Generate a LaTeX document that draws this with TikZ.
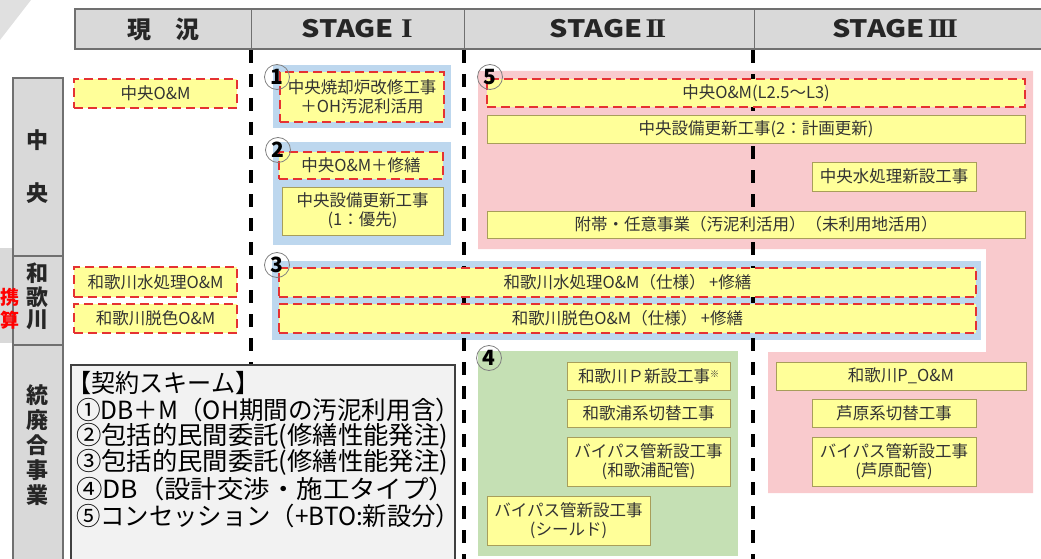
\documentclass[tikz,border=0pt]{standalone}
\usepackage{fontspec}
\setmainfont{Noto Sans CJK JP}
\newfontfamily\romfont{Liberation Serif}
\definecolor{yel}{HTML}{FFFF99}
\definecolor{ybord}{HTML}{A89E5A}
\definecolor{redd}{HTML}{E53232}
\definecolor{pinkbg}{HTML}{F9CACD}
\definecolor{bluebg}{HTML}{BDD7EE}
\definecolor{greenbg}{HTML}{C5E0B4}
\definecolor{hdrgrey}{HTML}{D9D9D9}
\definecolor{hdrline}{HTML}{707070}
\definecolor{legfill}{HTML}{F2F2F2}
\definecolor{txt}{HTML}{333333}
\newcommand{\mybox}[7]{\node[#6, minimum width={(#4-#2)*1pt}, minimum height={(#5-#3)*1pt}] (#1) at ({(#2+#4)/2},{(#3+#5)/2}) {#7};}
\newcommand{\stg}[2]{\scalebox{1.2}[1]{STAGE}\hspace{#1}{\romfont\bfseries\fontsize{27}{27}\selectfont\scalebox{1.1}[1]{#2}}}
\newcommand{\legline}[2]{\resizebox{#1}{\height}{#2}}
\begin{document}
\begin{tikzpicture}[x=1pt,y=-1pt,
  ybox/.style={draw=ybord, fill=yel, line width=0.9pt, inner sep=0pt, text=txt, align=center, font=\fontsize{16.5}{19}\selectfont},
  rbox/.style={ybox, draw=redd, line width=2.2pt, dash pattern=on 9pt off 5pt},
  numc/.style={circle, draw=gray, line width=0.8pt, minimum size=25pt, inner sep=0pt, font=\bfseries\fontsize{21}{21}\selectfont},
  hdr/.style={font=\bfseries\fontsize{24}{24}\selectfont, text=black!85},
  rowch/.style={font=\bfseries\fontsize{22}{22}\selectfont, text=black!85, inner sep=0pt},
  vdash/.style={line width=3.5pt, dash pattern=on 13pt off 11pt},
  leg/.style={anchor=west, font=\fontsize{25}{25}\selectfont, inner sep=0pt, text=black}
]
\useasboundingbox (0,0) rectangle (1041,559);
% top-left wedge and left strip
\fill[black!12] (0,0) -- (31,0) -- (0,40) -- cycle;
\fill[hdrgrey] (0,248) rectangle (13,343);
% header row
\draw[fill=hdrgrey, draw=hdrline, line width=1.2pt] (75,9) rectangle (1050,49);
\foreach \xx in {251,464,754} \draw[hdrline, line width=1pt] (\xx,9) -- (\xx,49);
\node[hdr] (h0) at (163,29) {現　況};
\node[hdr] (h1) at (357,29) {\stg{7pt}{I}};
\node[hdr] (h2) at (608,29) {\stg{3pt}{I\kern-2.2pt I}};
\node[hdr] (h3) at (895,29) {\stg{3pt}{I\kern-2.2pt I\kern-2.2pt I}};
% left row headers
\draw[fill=hdrgrey, draw=hdrline, line width=1.2pt] (13,78) rectangle (63,256);
\draw[fill=hdrgrey, draw=hdrline, line width=1.2pt] (13,256) rectangle (63,345);
\draw[fill=hdrgrey, draw=hdrline, line width=1.2pt] (13,345) rectangle (63,570);
\node[rowch] (r1a) at (38,140) {中};
\node[rowch] (r1b) at (38,193) {央};
\node[rowch] (r2a) at (38,273) {和};
\node[rowch] (r2b) at (38,297) {歌};
\node[rowch] (r2c) at (38,320) {川};
\node[rowch] (r3a) at (38,395) {統};
\node[rowch] (r3b) at (38,420) {廃};
\node[rowch] (r3c) at (38,445) {合};
\node[rowch] (r3d) at (38,470) {事};
\node[rowch] (r3e) at (38,495) {業};
% background groups
\fill[pinkbg] (478,71) -- (1033,71) -- (1033,493) -- (768,493) -- (768,352) -- (986,352) -- (986,249) -- (478,249) -- cycle;
\fill[bluebg] (273,65) rectangle (451,128);
\fill[bluebg] (273,142) rectangle (451,245);
\fill[bluebg] (272,261) rectangle (981,340);
\fill[greenbg] (478,351) rectangle (738,556);
% stage dividers
\draw[vdash] (251,50) -- (251,565);
\draw[vdash] (464,50) -- (464,565);
\draw[vdash] (753,50) -- (753,565);
% current
\mybox{c1}{74}{79}{237}{108}{rbox}{中央O\&M}
\mybox{w1}{74}{267}{237}{297}{rbox}{和歌川水処理O\&M}
\mybox{w2}{74}{304}{237}{333}{rbox}{和歌川脱色O\&M}
% stage I
\mybox{s1a}{280}{72}{444}{122}{rbox}{中央焼却炉改修工事\\＋OH汚泥利活用}
\mybox{s2a}{279}{152}{443}{179}{rbox}{中央O\&M＋修繕}
\mybox{s2b}{282}{187}{443}{235}{ybox}{中央設備更新工事\\(1：優先)}
% group 3
\mybox{s3a}{279}{268}{976}{297}{rbox}{和歌川水処理O\&M（仕様） +修繕}
\mybox{s3b}{279}{304}{976}{333}{rbox}{和歌川脱色O\&M（仕様） +修繕}
% group 5
\mybox{s5a}{487}{79}{1025}{107}{rbox}{中央O\&M(L2.5～L3)}
\mybox{s5b}{487}{115}{1025}{143}{ybox}{中央設備更新工事(2：計画更新)}
\mybox{s5c}{812}{162}{976}{191}{ybox}{中央水処理新設工事}
\mybox{s5d}{487}{211}{1025}{238}{ybox}{附帯・任意事業（汚泥利活用）（未利用地活用）}
% group 4
\mybox{s4a}{567}{362}{730}{390}{ybox}{和歌川Ｐ新設工事{\fontsize{9}{9}\selectfont\raisebox{5pt}{※}}}
\mybox{s4b}{567}{399}{730}{427}{ybox}{和歌浦系切替工事}
\mybox{s4c}{567}{437}{730}{486}{ybox}{バイパス管新設工事\\(和歌浦配管)}
\mybox{s4d}{487}{496}{650}{545}{ybox}{バイパス管新設工事\\(シールド)}
% stage III
\mybox{s6a}{776}{362}{1026}{390}{ybox}{和歌川P\_O\&M}
\mybox{s6b}{812}{399}{976}{427}{ybox}{芦原系切替工事}
\mybox{s6c}{812}{437}{976}{486}{ybox}{バイパス管新設工事\\(芦原配管)}
% number circles
\node[numc] (n1) at (277,77) {1};
\node[numc] (n2) at (278,150) {2};
\node[numc] (n3) at (277,265) {3};
\node[numc] (n4) at (489,358) {4};
\node[numc] (n5) at (490,77) {5};
% legend
\draw[fill=legfill, draw=black!75, line width=1.3pt] (71,365) rectangle (455,575);
\node[leg] (l0) at (67,383) {\legline{192pt}{【契約スキーム】}};
\node[leg] (l1) at (76,409.5) {\legline{384pt}{①DB＋M（OH期間の汚泥利用含）}};
\node[leg] (l2) at (76,436) {\legline{372pt}{②包括的民間委託(修繕性能発注)}};
\node[leg] (l3) at (76,462.5) {\legline{372pt}{③包括的民間委託(修繕性能発注)}};
\node[leg] (l4) at (76,489) {\legline{379pt}{④DB（設計交渉・施工タイプ）}};
\node[leg] (l5) at (76,515.5) {\legline{384pt}{⑤コンセッション（+BTO:新設分）}};
% red side label
\node[text=red, font=\bfseries\fontsize{19}{19}\selectfont, inner sep=0pt] (k1) at (10,297) {携};
\node[text=red, font=\bfseries\fontsize{19}{19}\selectfont, inner sep=0pt] (k2) at (10,320) {算};
\end{tikzpicture}
\end{document}
